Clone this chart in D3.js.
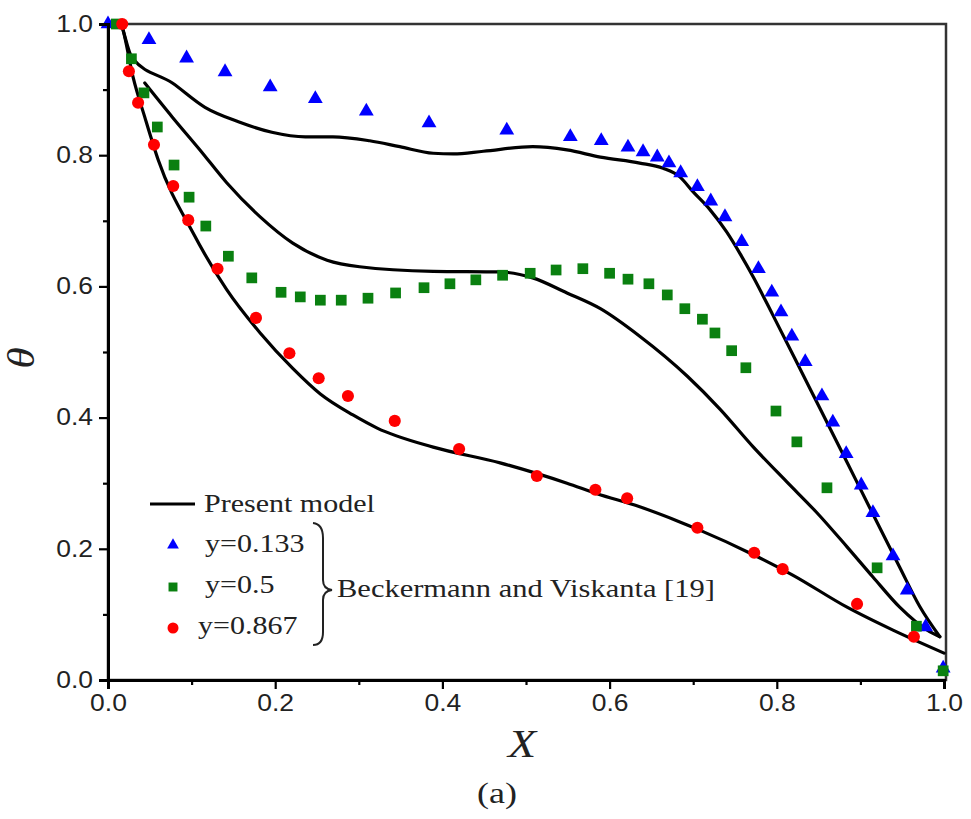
<!DOCTYPE html>
<html>
<head>
<meta charset="utf-8">
<script src="https://cdn.jsdelivr.net/npm/d3@7"></script>
<style>
  html, body { margin: 0; padding: 0; background: #fff; }
  svg { display: block; }
</style>
</head>
<body>
<svg id="chart" width="971" height="819"></svg>
<script>
// ---------------- DATA ----------------
const xTicks = [0.0, 0.2, 0.4, 0.6, 0.8, 1.0];
const yTicks = [0.0, 0.2, 0.4, 0.6, 0.8, 1.0];
const xMinorTicks = [0.1, 0.3, 0.5, 0.7, 0.9];
const yMinorTicks = [0.1, 0.3, 0.5, 0.7, 0.9];

const seriesLabels = ["y=0.133", "y=0.5", "y=0.867"];
const modelLabel = "Present model";
const refLabel = "Beckermann and Viskanta [19]";

// Beckermann and Viskanta [19] : y = 0.133 (triangles)
const expX1 = [0.000,0.049,0.094,0.140,0.194,0.248,0.309,0.384,0.477,0.553,0.590,0.622,0.640,0.657,0.671,0.685,0.705,0.721,0.738,0.758,0.778,0.794,0.805,0.818,0.834,0.854,0.867,0.883,0.901,0.915,0.939,0.956,0.978,0.999];
const expT1 = [1.000,0.976,0.948,0.927,0.904,0.886,0.867,0.849,0.838,0.828,0.822,0.812,0.805,0.797,0.788,0.773,0.752,0.730,0.706,0.668,0.627,0.591,0.561,0.524,0.485,0.433,0.393,0.345,0.297,0.255,0.189,0.137,0.081,0.018];

// y = 0.5 (squares)
const expX2 = [0.010,0.028,0.043,0.059,0.079,0.097,0.117,0.144,0.172,0.207,0.230,0.254,0.279,0.311,0.344,0.378,0.409,0.440,0.472,0.505,0.536,0.568,0.600,0.622,0.647,0.669,0.690,0.711,0.726,0.746,0.763,0.799,0.824,0.860,0.920,0.967,0.999];
const expT2 = [1.000,0.947,0.895,0.843,0.785,0.736,0.692,0.646,0.613,0.591,0.584,0.579,0.579,0.582,0.590,0.598,0.604,0.610,0.617,0.620,0.625,0.627,0.620,0.611,0.604,0.587,0.566,0.550,0.529,0.502,0.476,0.410,0.363,0.293,0.171,0.082,0.014];

// y = 0.867 (circles)
const expX3 = [0.017,0.025,0.036,0.055,0.078,0.096,0.131,0.177,0.217,0.252,0.287,0.343,0.420,0.513,0.583,0.621,0.705,0.773,0.807,0.896,0.964];
const expT3 = [1.000,0.928,0.880,0.816,0.753,0.701,0.627,0.552,0.498,0.460,0.433,0.395,0.352,0.311,0.290,0.277,0.232,0.194,0.169,0.116,0.066];

// Present model curves
const modX1 = [0.016,0.018,0.029,0.077,0.116,0.156,0.196,0.236,0.269,0.313,0.349,0.389,0.413,0.449,0.508,0.549,0.589,0.636,0.664,0.684,0.700,0.720,0.740,0.756,0.772,0.795,0.824,0.852,0.884,0.911,0.947,0.971,0.995];
const modT1 = [1.000,0.991,0.948,0.910,0.873,0.851,0.835,0.828,0.828,0.822,0.813,0.803,0.802,0.806,0.813,0.808,0.797,0.788,0.780,0.767,0.744,0.717,0.683,0.650,0.614,0.557,0.484,0.413,0.332,0.263,0.172,0.112,0.066];

const modX2 = [0.044,0.077,0.110,0.142,0.182,0.221,0.262,0.301,0.389,0.469,0.508,0.549,0.589,0.636,0.693,0.732,0.772,0.812,0.848,0.884,0.915,0.947,0.980,0.995];
const modT2 = [0.910,0.858,0.808,0.758,0.706,0.666,0.640,0.630,0.623,0.622,0.613,0.590,0.566,0.524,0.463,0.413,0.355,0.302,0.255,0.203,0.157,0.111,0.076,0.066];

const modX3 = [0.016,0.018,0.030,0.044,0.060,0.102,0.142,0.182,0.221,0.254,0.293,0.322,0.389,0.469,0.549,0.585,0.636,0.684,0.705,0.772,0.819,0.884,0.939,1.000];
const modT3 = [1.000,0.991,0.919,0.858,0.793,0.681,0.595,0.529,0.475,0.436,0.404,0.384,0.355,0.331,0.300,0.284,0.264,0.241,0.230,0.191,0.160,0.111,0.076,0.041];

// ---------------- CHART ----------------
const svg = d3.select("#chart");
const X0 = 108, X1 = 944, Y0 = 680, Y1 = 24;
const x = d3.scaleLinear().domain([0, 1]).range([X0, X1]);
const y = d3.scaleLinear().domain([0, 1]).range([Y0, Y1]);

const SX = 1.2; // horizontal stretch of text seen in the reference
function stretch(sel, k) {
  sel.each(function () {
    const len = this.getComputedTextLength();
    d3.select(this).attr("textLength", len * (k || SX)).attr("lengthAdjust", "spacingAndGlyphs");
  });
}

const colors = ["#0000ff", "#0a8010", "#ff0000"];
const zip = (a, b) => a.map((v, i) => [v, b[i]]);

// frame (top/right)
svg.append("rect").attr("x", X0).attr("y", Y1).attr("width", X1 + 2 - X0).attr("height", Y0 - Y1)
  .attr("fill", "none").attr("stroke", "#333").attr("stroke-width", 2.5);

// model lines
const line = d3.line().x(d => x(d[0])).y(d => y(d[1])).curve(d3.curveMonotoneX);
const plot = svg.append("g");
[[modX1, modT1], [modX2, modT2], [modX3, modT3]].forEach(([mx, mt]) => {
  plot.append("path").datum(zip(mx, mt)).attr("d", line)
    .attr("fill", "none").attr("stroke", "#000").attr("stroke-width", 3.2)
    .attr("stroke-linejoin", "round").attr("stroke-linecap", "round");
});

// experimental markers
const symTypes = [d3.symbolTriangle, d3.symbolSquare, d3.symbolCircle];
const symSizes = [95, 115, 115];
[[expX1, expT1], [expX2, expT2], [expX3, expT3]].forEach(([ex, et], i) => {
  plot.selectAll(null).data(zip(ex, et)).enter().append("path")
    .attr("d", d3.symbol().type(symTypes[i]).size(symSizes[i]))
    .attr("transform", d => `translate(${x(d[0])},${y(d[1])})`)
    .attr("fill", colors[i]);
});

// axes
const tickFont = "'Liberation Sans', Arial, sans-serif";
const gx = svg.append("g").attr("transform", `translate(0,${Y0})`)
  .call(d3.axisBottom(x).tickValues(xTicks).tickFormat(d3.format(".1f")).tickSize(9).tickPadding(6));
const gxm = svg.append("g").attr("transform", `translate(0,${Y0})`)
  .call(d3.axisBottom(x).tickValues(xMinorTicks).tickFormat("").tickSize(5));
const gy = svg.append("g").attr("transform", `translate(${X0},0)`)
  .call(d3.axisLeft(y).tickValues(yTicks).tickFormat(d3.format(".1f")).tickSize(9).tickPadding(6));
const gym = svg.append("g").attr("transform", `translate(${X0},0)`)
  .call(d3.axisLeft(y).tickValues(yMinorTicks).tickFormat("").tickSize(5));
[gx, gxm, gy, gym].forEach(g => {
  g.select(".domain").attr("stroke", "#000").attr("stroke-width", 3);
  g.selectAll(".tick line").attr("stroke", "#000").attr("stroke-width", 2.2);
  g.selectAll(".tick text").attr("fill", "#222").style("font-family", tickFont).style("font-size", "23px");
});
gx.selectAll(".tick text").attr("dy", "0.71em");
stretch(gx.selectAll(".tick text"), 1.15);
stretch(gy.selectAll(".tick text"), 1.15);

const serif = "'Liberation Serif', 'Times New Roman', serif";

// axis titles
const xt = svg.append("text").attr("x", 522).attr("y", 757).attr("text-anchor", "middle")
  .style("font-family", serif).style("font-style", "italic").style("font-size", "40px").attr("fill", "#222").text("X");
stretch(xt, 1.15);
const yt = svg.append("text").attr("transform", "translate(34,358) rotate(-90)").attr("text-anchor", "middle")
  .style("font-family", serif).style("font-style", "italic").style("font-size", "38px").attr("fill", "#222").text("θ");
stretch(yt, 1.15);
const cap = svg.append("text").attr("x", 497).attr("y", 803).attr("text-anchor", "middle")
  .style("font-family", serif).style("font-size", "30px").attr("fill", "#222").text("(a)");
stretch(cap, 1.2);

// legend
const lg = svg.append("g");
lg.append("line").attr("x1", 150).attr("x2", 195).attr("y1", 504).attr("y2", 504)
  .attr("stroke", "#000").attr("stroke-width", 3.2);
const tm = lg.append("text").attr("x", 204).attr("y", 512)
  .style("font-family", serif).style("font-size", "25px").attr("fill", "#222").text(modelLabel);
stretch(tm);
const legY = [545, 587, 628];
const legSym = [60, 80, 95];
const legTx = [205, 205, 198];
const legTy = [552, 593, 634];
seriesLabels.forEach((lab, i) => {
  lg.append("path").attr("d", d3.symbol().type(symTypes[i]).size(legSym[i]))
    .attr("transform", `translate(173,${legY[i]})`).attr("fill", colors[i]);
  const t = lg.append("text").attr("x", legTx[i]).attr("y", legTy[i])
    .style("font-family", serif).style("font-size", "25px").attr("fill", "#222").text(lab);
  stretch(t);
});
// brace
lg.append("path")
  .attr("d", "M313,523 Q323,524 323,538 L323,580 Q323,589 332,590 Q323,591 323,600 L323,632 Q323,645 313,645")
  .attr("fill", "none").attr("stroke", "#222").attr("stroke-width", 2);
const rt = lg.append("text").attr("x", 337).attr("y", 597)
  .style("font-family", serif).style("font-size", "25px").attr("fill", "#222").text(refLabel);
stretch(rt, 1.22);
</script>
</body>
</html>
